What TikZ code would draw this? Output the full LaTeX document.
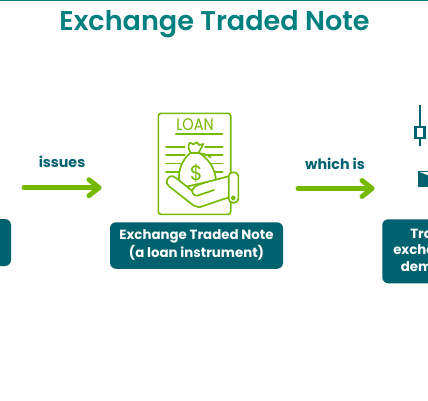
\documentclass[tikz,border=0pt]{standalone}
\usepackage{fontspec}
\setmainfont{Poppins}[BoldFont={Poppins Bold}]
\newfontfamily\semifont{Poppins SemiBold}
\definecolor{tealbox}{HTML}{00626E}
\definecolor{tealtitle}{HTML}{00807F}
\definecolor{leaf}{HTML}{76BA00}
\tikzset{
  box/.style={fill=tealbox,rounded corners=6*0.75pt,draw=none},
  boxtext/.style={text=white,font=\bfseries\fontsize{10}{12.9}\selectfont,align=center,inner sep=0pt},
  edgetext/.style={text=white,font=\bfseries\fontsize{10}{12.9}\selectfont,inner sep=0pt,anchor=base west},
  flow/.style={draw=leaf,line width=3.7pt,line cap=round,line join=round},
  lbl/.style={text=tealbox,font=\bfseries\fontsize{10.7}{12}\selectfont,inner sep=0pt},
  icon/.style={draw=leaf,line width=1.25pt,line cap=round,line join=round},
  candle/.style={draw=tealbox,line width=1.7pt}
}
\begin{document}
\begin{tikzpicture}[x=0.75pt,y=-0.75pt]
\useasboundingbox (0,0) rectangle (428,400);
\clip (0,0) rectangle (428,400);
\fill[white] (0,0) rectangle (428,400);
\fill[tealtitle] (0,0) rectangle (428,1.2);
\node[text=tealtitle,font=\semifont\fontsize{20.3}{24}\selectfont,inner sep=0pt,anchor=base] (title) at (214.5,30) {Exchange Traded Note};

% side and centre boxes
\node[box,minimum width=30*0.75pt,minimum height=47*0.75pt,inner sep=0pt] (leftbox) at (-4,242.5) {};
\node[box,minimum width=173*0.75pt,minimum height=46.5*0.75pt,inner sep=0pt] (midbox) at (196.5,245.5) {};
\node[boxtext] (midtext) at (196.5,245) {Exchange Traded Note\\(a loan instrument)};
\node[box,minimum width=90*0.75pt,minimum height=64*0.75pt,inner sep=0pt,anchor=north west] (rightbox) at (382,219) {};
\node[edgetext] (r1) at (410,238) {Tra};
\node[edgetext] (r2) at (393,254.5) {excha};
\node[edgetext] (r3) at (400.5,271) {dem};

% arrows
\coordinate (a1s) at (24,187.7); \coordinate (a1e) at (99,187.7);
\coordinate (a2s) at (298,188.5); \coordinate (a2e) at (372,188.5);
\draw[flow] (a1s) -- (a1e);
\draw[flow] ([shift={(-10,-8)}]a1e) -- (a1e) -- ([shift={(-10,8)}]a1e);
\draw[flow] (a2s) -- (a2e);
\draw[flow] ([shift={(-10,-8)}]a2e) -- (a2e) -- ([shift={(-10,8)}]a2e);
\node[lbl,anchor=base] (issues) at (62,167) {issues};
\node[lbl,anchor=base] (whichis) at (335,169) {which is};

% loan icon, in units of a third of a pixel
\begin{scope}[shift={(140,100)},x=0.25pt,y=-0.25pt]
\draw[icon,rounded corners=2pt] (272,218) -- (272,40) -- (55,40) -- (55,343) -- (272,343) -- (272,306);
\node[text=leaf,font=\fontsize{12.6}{13}\selectfont,inner sep=0pt,xscale=0.86] (loan) at (165,73) {LOAN};
\draw[icon] (107,101) -- (247,101);
\foreach \yy in {140,165,190,215}{
  \draw[icon] (78,\yy) -- (134,\yy);
  \draw[icon] (195,\yy) -- (248,\yy);
}
% money bag
\draw[icon,fill=white] (150,128) -- (160,133) -- (170,127) -- (178,135) -- (190,132) -- (176,158)
  .. controls (205,175) and (225,205) .. (228,240) -- (130,262)
  .. controls (108,250) and (112,190) .. (152,158) .. controls (146,148) and (142,136) .. (150,128) -- cycle;
\draw[icon] (150,158) -- (178,158);
\draw[icon] (178,160) .. controls (190,160) and (205,165) .. (212,172);
\node[text=leaf,font=\fontsize{15.5}{15}\selectfont,inner sep=0pt] (dollar) at (169,221) {\$};
% hand
\draw[icon,fill=white] (82,238) .. controls (88,226) and (98,226) .. (108,234) -- (156,272)
  .. controls (160,256) and (185,250) .. (225,240) -- (268,228) -- (268,292) -- (236,302)
  -- (178,322) -- (160,316) -- (86,258) .. controls (80,252) and (78,246) .. (82,238) -- cycle;
\draw[icon] (156,272) .. controls (158,282) and (162,288) .. (172,287) -- (222,270);
\draw[icon,fill=white,rounded corners=3pt] (266,217) rectangle (295,308);
\draw[icon] (280,294) circle[radius=5];
\end{scope}

% candlestick icon, cut by the frame
\draw[candle] (420,105) -- (420,127);
\draw[candle] (420,138) -- (420,146);
\draw[candle,fill=white] (415.5,127) rectangle (424.5,138);
\fill[tealbox] (418,171) rectangle (430,187);
\fill[white] (419.5,172) -- (430,172) -- (430,176) -- cycle;
\end{tikzpicture}
\end{document}
